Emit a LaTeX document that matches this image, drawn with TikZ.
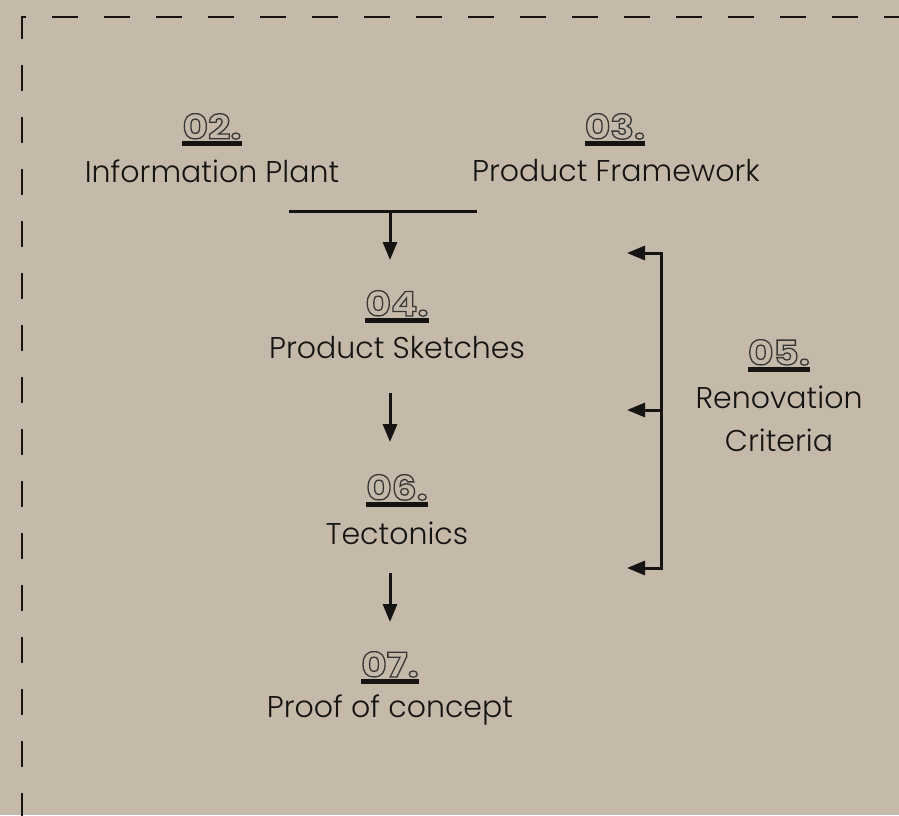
\documentclass[tikz,border=0pt]{standalone}
\usepackage{fontspec}
\usetikzlibrary{arrows.meta}
\newfontfamily\labelfont{Poppins Light}
\newfontfamily\numfont[FakeStretch=1.15]{Poppins Bold}
\definecolor{kraft}{RGB}{197,186,170}
\definecolor{ink}{RGB}{22,20,18}
% hollow digits: glyphs stroked only (text render mode 1)
\newcommand\outlined[1]{\special{pdf:code 1 Tr 1.3 w}#1\special{pdf:code 0 Tr}}
\tikzset{
  label/.style={font=\labelfont\fontsize{30}{34}\selectfont, text=ink, align=center, inner sep=0pt},
  num/.style={font=\numfont\fontsize{34}{36}\selectfont, text=ink!85, inner sep=0pt, anchor=base},
  ul/.style={line width=5pt, draw=ink},
  link/.style={line width=3pt, draw=ink},
  flow/.style={link, -{Triangle[width=14pt,length=18pt]}},
  frame/.style={line width=2.5pt, draw=ink, dash pattern=on 26pt off 26pt}
}
\newcommand\numlabel[3]{%
  \node[num] (#1) at (#2) {\outlined{#3}};
  \draw[ul] ([yshift=-4.5pt]#1.base west) -- ([yshift=-4.5pt]#1.base east);
}
\begin{document}
\begin{tikzpicture}[x=1pt,y=-1pt]
  \fill[kraft] (0,0) rectangle (899,815);
  \useasboundingbox (0,0) rectangle (899,815);

  % dashed frame along top and left edges
  \coordinate (fTL) at (22,17);
  \coordinate (fTR) at (910,17);
  \coordinate (fBL) at (22,830);
  \draw[frame] (fTR) -- (fTL) -- (fBL);

  % stage numbers
  \numlabel{n02}{212,139}{02.}
  \numlabel{n03}{615,139}{03.}
  \numlabel{n04}{397,316}{04.}
  \numlabel{n05}{779,365}{05.}
  \numlabel{n06}{397,500}{06.}
  \numlabel{n07}{390,677}{07.}

  % stage titles
  \node[label] (t02) at (212,171) {Information Plant};
  \node[label] (t03) at (616,171) {Product Framework};
  \node[label] (t04) at (397,348) {Product Sketches};
  \node[label] (t05) at (779,419) {Renovation\\[9pt]Criteria};
  \node[label] (t06) at (397,533) {Tectonics};
  \node[label] (t07) at (390,710) {Proof of concept};

  % merge of 02 and 03 into 04
  \coordinate (barL) at (289,211);
  \coordinate (barR) at (477,211);
  \coordinate (barM) at (390,211);
  \coordinate (in04) at (390,260);
  \draw[link] (barL) -- (barR);
  \draw[flow] (barM) -- (in04);

  % main sequence
  \coordinate (out04) at (390,393);
  \coordinate (in06) at (390,442);
  \coordinate (out06) at (390,573);
  \coordinate (in07) at (390,622);
  \draw[flow] (out04) -- (in06);
  \draw[flow] (out06) -- (in07);

  % renovation criteria feeding back into the sequence
  \coordinate (bT) at (661,253);
  \coordinate (bM) at (661,410);
  \coordinate (bB) at (661,568);
  \coordinate (aT) at (627,253);
  \coordinate (aM) at (627,410);
  \coordinate (aB) at (627,568);
  \draw[link] ([yshift=-1.5pt]bT) -- ([yshift=1.5pt]bB);
  \draw[flow] ([xshift=1.5pt]bT) -- (aT);
  \draw[flow] (bM) -- (aM);
  \draw[flow] ([xshift=1.5pt]bB) -- (aB);
\end{tikzpicture}
\end{document}
